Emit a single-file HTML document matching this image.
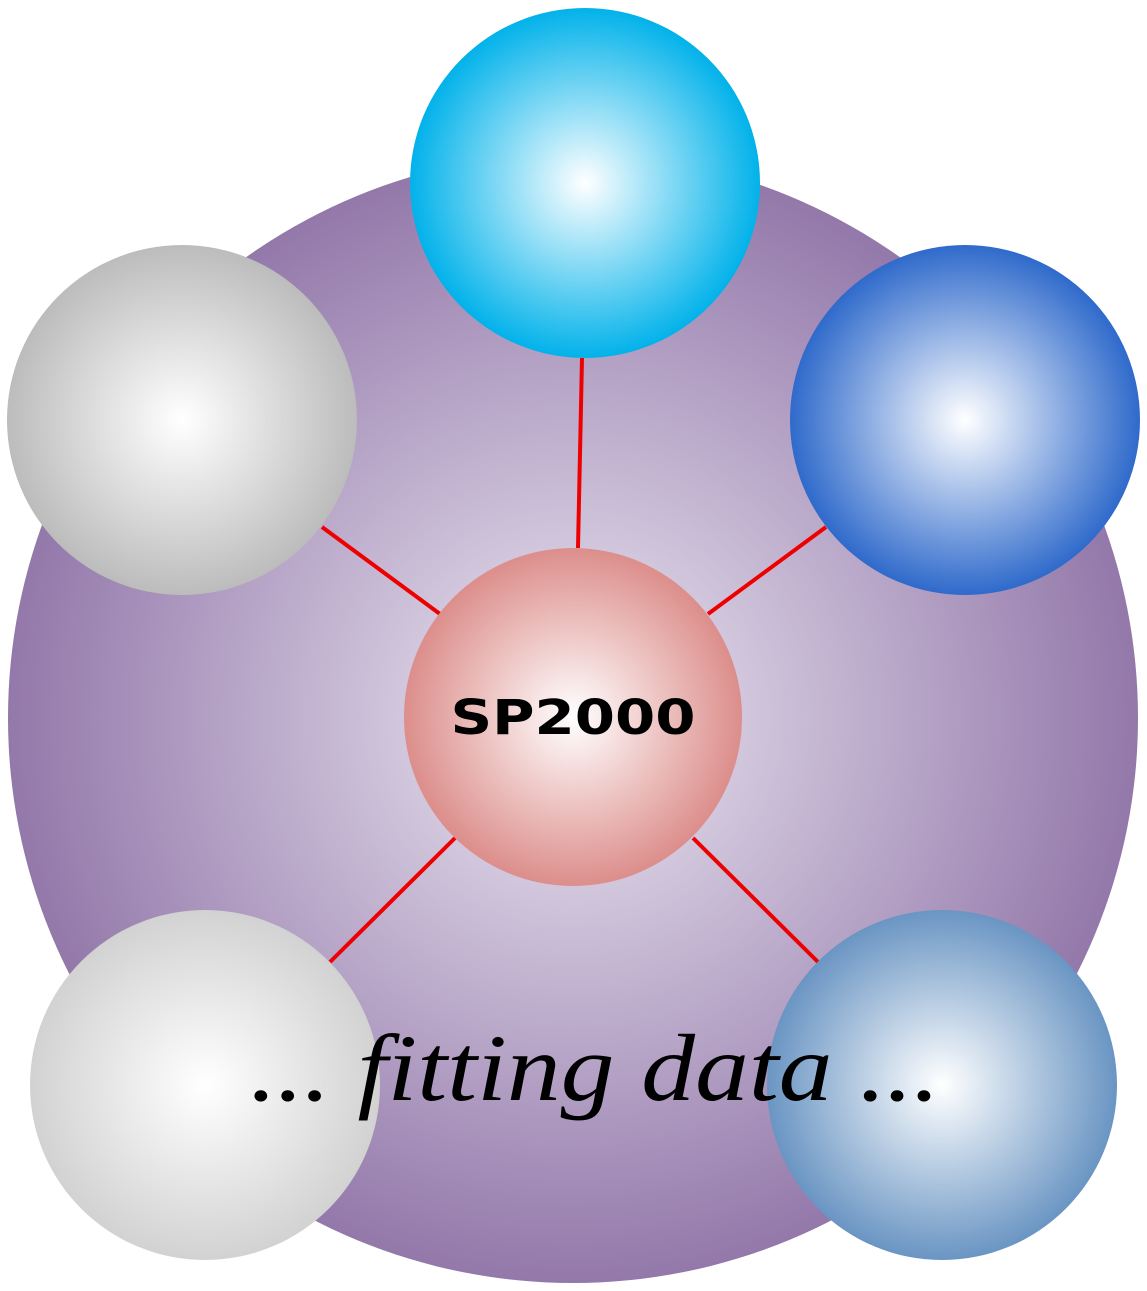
<!DOCTYPE html>
<html><head><meta charset="utf-8"><style>html,body{margin:0;padding:0;background:#fff}svg{display:block}</style></head>
<body>
<svg width="1147" height="1291" viewBox="0 0 1147 1291" xmlns="http://www.w3.org/2000/svg">
<defs>
<radialGradient id="big" cx="0.5" cy="0.5" r="0.5"><stop offset="0" stop-color="#ece8f2"/><stop offset="1" stop-color="#9378aa"/></radialGradient>
<radialGradient id="top" cx="0.5" cy="0.5" r="0.5"><stop offset="0" stop-color="#ffffff"/><stop offset="1" stop-color="#02b2ea"/></radialGradient>
<radialGradient id="rb" cx="0.5" cy="0.5" r="0.5"><stop offset="0" stop-color="#ffffff"/><stop offset="1" stop-color="#2f6acb"/></radialGradient>
<radialGradient id="gr" cx="0.5" cy="0.5" r="0.5"><stop offset="0" stop-color="#ffffff"/><stop offset="1" stop-color="#bcbcbc"/></radialGradient>
<radialGradient id="gl" cx="0.5" cy="0.5" r="0.5"><stop offset="0" stop-color="#ffffff"/><stop offset="1" stop-color="#d2d2d2"/></radialGradient>
<radialGradient id="br" cx="0.5" cy="0.5" r="0.5"><stop offset="0" stop-color="#ffffff"/><stop offset="1" stop-color="#6a95c3"/></radialGradient>
<radialGradient id="pk" cx="0.5" cy="0.5" r="0.5"><stop offset="0" stop-color="#ffffff"/><stop offset="1" stop-color="#dc8e8b"/></radialGradient>
</defs>
<circle cx="573" cy="718" r="565" fill="url(#big)"/>
<g stroke="#ee0000" stroke-width="4">
<line x1="582" y1="358" x2="578" y2="548"/>
<line x1="322" y1="527" x2="440" y2="614"/>
<line x1="826" y1="527" x2="708" y2="614"/>
<line x1="455" y1="838" x2="330" y2="962"/>
<line x1="693" y1="838" x2="818" y2="962"/>
</g>
<circle cx="585" cy="183" r="175" fill="url(#top)"/>
<circle cx="182" cy="420" r="175" fill="url(#gr)"/>
<circle cx="965" cy="420" r="175" fill="url(#rb)"/>
<circle cx="205" cy="1085" r="175" fill="url(#gl)"/>
<circle cx="942" cy="1085" r="175" fill="url(#br)"/>
<circle cx="573" cy="717" r="169" fill="url(#pk)"/>
<text x="573" y="734" text-anchor="middle" font-family="DejaVu Sans, sans-serif" font-weight="bold" font-size="48" fill="#000" textLength="245" lengthAdjust="spacingAndGlyphs">SP2000</text>
<text x="595" y="1100" text-anchor="middle" font-family="Liberation Serif, serif" font-style="italic" font-size="95" fill="#000" textLength="690" lengthAdjust="spacingAndGlyphs">... fitting data ...</text>
</svg>
</body></html>
